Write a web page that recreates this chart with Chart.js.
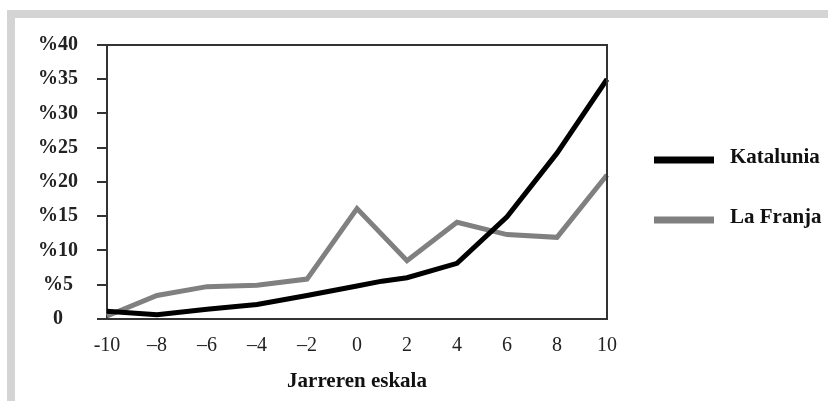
<!DOCTYPE html>
<html>
<head>
<meta charset="utf-8">
<script src="https://cdn.jsdelivr.net/npm/chart.js@4"></script>
<style>
  body { margin: 0; background: #fff; }
  #wrap { position: relative; width: 828px; height: 401px; }
  .frame { position: absolute; background: #d4d4d4; }
  #chart { position: absolute; left: 0; top: 0; }
</style>
</head>
<body>
<div id="wrap">
  <div class="frame" style="left:7px; top:10px; width:821px; height:8px;"></div>
  <div class="frame" style="left:7px; top:10px; width:8px; height:391px;"></div>
  <canvas id="chart" width="828" height="401"></canvas>
</div>
<script>
const seriesNames = ["Katalunia", "La Franja"];
const katX = [-10, -8, -6, -4, -2, 0, 1, 2, 4, 6, 8, 10];
const katValues = [1.1, 0.6, 1.4, 2.1, 3.4, 4.8, 5.5, 6.0, 8.1, 14.9, 24.2, 35.0];
const franjaX = [-10, -8, -6, -4, -2, 0, 2, 4, 6, 8, 10];
const franjaValues = [0.4, 3.4, 4.7, 4.9, 5.8, 16.1, 8.5, 14.1, 12.3, 11.9, 21.0];
const xTickLabels = { "-10": "-10", "-8": "–8", "-6": "–6", "-4": "–4", "-2": "–2",
  "0": "0", "2": "2", "4": "4", "6": "6", "8": "8", "10": "10" };
const xTitle = "Jarreren eskala";

const serif = "'Liberation Serif', 'DejaVu Serif', serif";

function points(xs, ys) {
  return xs.map((x, i) => ({ x: x, y: ys[i] }));
}

// box round the plot plus the legend on the right
const frameAndLegend = {
  id: 'frameAndLegend',
  afterDraw(chart) {
    const { ctx, chartArea } = chart;
    ctx.save();
    ctx.strokeStyle = '#333';
    ctx.lineWidth = 2;
    ctx.beginPath();
    ctx.moveTo(chartArea.left, chartArea.top);
    ctx.lineTo(chartArea.right, chartArea.top);
    ctx.lineTo(chartArea.right, chartArea.bottom);
    ctx.stroke();

    const rows = [160, 220];
    chart.data.datasets.forEach((ds, i) => {
      const y = rows[i];
      ctx.strokeStyle = ds.borderColor;
      ctx.lineWidth = 7;
      ctx.beginPath();
      ctx.moveTo(654, y);
      ctx.lineTo(714, y);
      ctx.stroke();
      ctx.fillStyle = '#111';
      ctx.font = "bold 21px " + serif;
      ctx.textBaseline = 'middle';
      ctx.fillText(ds.label, 730, y - 2);
    });
    ctx.restore();
  }
};

new Chart(document.getElementById("chart"), {
  type: 'line',
  data: {
    datasets: [{
      label: seriesNames[0],
      data: points(katX, katValues),
      borderColor: "#000000",
      borderWidth: 5,
      pointRadius: 0,
      tension: 0,
      clip: false
    }, {
      label: seriesNames[1],
      data: points(franjaX, franjaValues),
      borderColor: "#808080",
      borderWidth: 5,
      pointRadius: 0,
      tension: 0,
      clip: false
    }]
  },
  options: {
    responsive: false,
    animation: false,
    layout: { padding: { left: 40, right: 221, top: 45, bottom: 7 } },
    plugins: {
      legend: { display: false },
      tooltip: { enabled: false }
    },
    scales: {
      x: {
        type: 'linear',
        min: -10,
        max: 10,
        grid: { drawOnChartArea: false, drawTicks: false },
        border: { color: '#333', width: 2 },
        ticks: {
          stepSize: 2,
          padding: 15,
          color: '#222',
          font: { family: serif, size: 20 },
          callback: v => xTickLabels[String(v)]
        },
        title: {
          display: true,
          text: xTitle,
          color: '#111',
          padding: { top: -4, bottom: 0 },
          font: { family: serif, size: 21, weight: 'bold' }
        }
      },
      y: {
        min: 0,
        max: 40,
        afterFit: axis => { axis.width = 67; },
        grid: { drawOnChartArea: false, tickLength: 10, color: '#333', lineWidth: 2 },
        border: { color: '#333', width: 2 },
        ticks: {
          stepSize: 5,
          padding: 19,
          crossAlign: 'center',
          color: '#222',
          font: { family: serif, size: 20, weight: 'bold' },
          callback: v => v === 0 ? '0' : '%' + v
        }
      }
    }
  },
  plugins: [frameAndLegend]
});
</script>
</body>
</html>
